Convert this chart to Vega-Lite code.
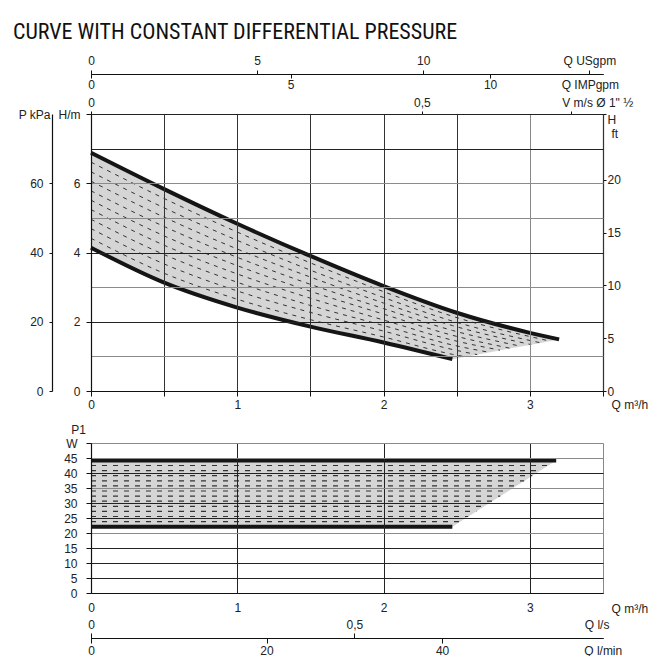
{
  "$schema": "https://vega.github.io/schema/vega-lite/v6.json",
  "padding": {"left": 12, "top": 21, "right": 0, "bottom": 0},
  "title": {"text": "CURVE WITH CONSTANT DIFFERENTIAL PRESSURE", "anchor": "start", "frame": "bounds", "dx": -5, "font": "Liberation Sans Narrow, Roboto Condensed, Roboto, sans-serif", "fontSize": 22, "fontWeight": "normal", "color": "#111", "offset": 10},
  "bounds": "flush",
  "spacing": 52,
  "config": {
    "view": {"stroke": null},
    "axis": {"labelFont": "Liberation Sans", "labelFontSize": 12, "labelColor": "#222", "titleFont": "Liberation Sans", "titleFontSize": 12, "titleFontWeight": "normal", "titleColor": "#222", "domainColor": "#111", "domainWidth": 1.2, "tickColor": "#111", "gridColor": "#333", "labelFlush": false, "labelOverlap": false, "labelBound": false}
  },
  "vconcat": [
    {
      "width": 512, "height": 277,
      "resolve": {"scale": {"x": "independent", "y": "independent"}, "axis": {"x": "independent", "y": "independent"}},
      "layer": [
        {
          "data": {"values": [
            {"q": 0, "u": 6.88, "l": 4.14}, {"q": 0.5, "u": 5.83, "l": 3.13}, {"q": 1.0, "u": 4.83, "l": 2.41},
            {"q": 1.5, "u": 3.90, "l": 1.86}, {"q": 2.0, "u": 3.03, "l": 1.40}, {"q": 2.47, "u": 2.30, "l": 0.92},
            {"q": 2.5, "u": 2.26, "l": 0.94}, {"q": 2.8, "u": 1.90, "l": 1.18}, {"q": 3.0, "u": 1.68, "l": 1.33}, {"q": 3.2, "u": 1.49, "l": 1.49}
          ]},
          "mark": {"type": "area", "color": "#d5d5d5", "interpolate": "linear"},
          "encoding": {
            "x": {"field": "q", "type": "quantitative", "scale": {"domain": [0, 3.5], "nice": false, "zero": false},
              "axis": {"orient": "bottom", "values": [0, 0.5, 1, 1.5, 2, 2.5, 3, 3.5], "labelExpr": "datum.value % 1 == 0 ? format(datum.value, 'd') : ''", "grid": true, "tickSize": 5, "labelPadding": 3, "zindex": 1,
                "gridColor": {"condition": {"test": "datum.value == 3", "value": "#888"}, "value": "#333"},
                "title": "Q m³/h", "titleX": 520, "titleY": 13, "titleAlign": "left", "titleBaseline": "middle", "titleAngle": 0}},
            "y": {"field": "u", "type": "quantitative", "scale": {"domain": [0, 8], "nice": false, "zero": false},
              "axis": {"orient": "left", "values": [0, 1, 2, 3, 4, 5, 6, 7, 8], "labelExpr": "datum.value == 8 ? 'H/m' : (datum.value % 2 == 0 ? format(datum.value, 'd') : '')", "grid": true, "tickSize": 5, "labelPadding": 6, "zindex": 1, "title": null,
                "tickOpacity": {"condition": {"test": "datum.value % 2 == 1", "value": 0}, "value": 1},
                "gridColor": {"condition": {"test": "datum.value == 1 || datum.value == 3 || datum.value == 5 || datum.value == 6", "value": "#8a8a8a"}, "value": "#222"}}},
            "y2": {"field": "l"}
          }
        },
        {
          "data": {"values": [
            {"q": 0, "h": 4.41, "k": 1}, {"q": 0.5, "h": 3.40, "k": 1}, {"q": 1, "h": 2.65, "k": 1}, {"q": 1.5, "h": 2.06, "k": 1}, {"q": 2, "h": 1.56, "k": 1}, {"q": 2.47, "h": 1.06, "k": 1}, {"q": 2.557, "h": 0.99, "k": 1},
            {"q": 0, "h": 4.69, "k": 2}, {"q": 0.5, "h": 3.67, "k": 2}, {"q": 1, "h": 2.89, "k": 2}, {"q": 1.5, "h": 2.27, "k": 2}, {"q": 2, "h": 1.73, "k": 2}, {"q": 2.47, "h": 1.20, "k": 2}, {"q": 2.640, "h": 1.05, "k": 2},
            {"q": 0, "h": 4.96, "k": 3}, {"q": 0.5, "h": 3.94, "k": 3}, {"q": 1, "h": 3.14, "k": 3}, {"q": 1.5, "h": 2.47, "k": 3}, {"q": 2, "h": 1.89, "k": 3}, {"q": 2.47, "h": 1.33, "k": 3}, {"q": 2.719, "h": 1.12, "k": 3},
            {"q": 0, "h": 5.24, "k": 4}, {"q": 0.5, "h": 4.21, "k": 4}, {"q": 1, "h": 3.38, "k": 4}, {"q": 1.5, "h": 2.68, "k": 4}, {"q": 2, "h": 2.05, "k": 4}, {"q": 2.47, "h": 1.47, "k": 4}, {"q": 2.796, "h": 1.18, "k": 4},
            {"q": 0, "h": 5.51, "k": 5}, {"q": 0.5, "h": 4.48, "k": 5}, {"q": 1, "h": 3.62, "k": 5}, {"q": 1.5, "h": 2.88, "k": 5}, {"q": 2, "h": 2.22, "k": 5}, {"q": 2.47, "h": 1.61, "k": 5}, {"q": 2.870, "h": 1.23, "k": 5},
            {"q": 0, "h": 5.78, "k": 6}, {"q": 0.5, "h": 4.75, "k": 6}, {"q": 1, "h": 3.86, "k": 6}, {"q": 1.5, "h": 3.08, "k": 6}, {"q": 2, "h": 2.38, "k": 6}, {"q": 2.47, "h": 1.75, "k": 6}, {"q": 2.941, "h": 1.29, "k": 6},
            {"q": 0, "h": 6.06, "k": 7}, {"q": 0.5, "h": 5.02, "k": 7}, {"q": 1, "h": 4.10, "k": 7}, {"q": 1.5, "h": 3.29, "k": 7}, {"q": 2, "h": 2.54, "k": 7}, {"q": 2.47, "h": 1.89, "k": 7}, {"q": 3.009, "h": 1.34, "k": 7},
            {"q": 0, "h": 6.33, "k": 8}, {"q": 0.5, "h": 5.29, "k": 8}, {"q": 1, "h": 4.35, "k": 8}, {"q": 1.5, "h": 3.49, "k": 8}, {"q": 2, "h": 2.70, "k": 8}, {"q": 2.47, "h": 2.02, "k": 8}, {"q": 3.075, "h": 1.39, "k": 8},
            {"q": 0, "h": 6.61, "k": 9}, {"q": 0.5, "h": 5.56, "k": 9}, {"q": 1, "h": 4.59, "k": 9}, {"q": 1.5, "h": 3.70, "k": 9}, {"q": 2, "h": 2.87, "k": 9}, {"q": 2.47, "h": 2.16, "k": 9}, {"q": 3.139, "h": 1.44, "k": 9}
          ]},
          "mark": {"type": "line", "color": "#333", "strokeWidth": 1, "strokeDash": [4, 5], "interpolate": "monotone"},
          "encoding": {
            "x": {"field": "q", "type": "quantitative", "scale": {"domain": [0, 3.5], "nice": false, "zero": false}, "axis": null},
            "y": {"field": "h", "type": "quantitative", "scale": {"domain": [0, 8], "nice": false, "zero": false}, "axis": null},
            "detail": {"field": "k", "type": "nominal"}
          }
        },
        {
          "data": {"values": [
            {"q": 0, "h": 6.88, "s": "max"}, {"q": 0.5, "h": 5.83, "s": "max"}, {"q": 1, "h": 4.83, "s": "max"}, {"q": 1.5, "h": 3.90, "s": "max"},
            {"q": 2, "h": 3.03, "s": "max"}, {"q": 2.5, "h": 2.26, "s": "max"}, {"q": 3, "h": 1.68, "s": "max"}, {"q": 3.2, "h": 1.49, "s": "max"},
            {"q": 0, "h": 4.14, "s": "min"}, {"q": 0.5, "h": 3.13, "s": "min"}, {"q": 1, "h": 2.41, "s": "min"}, {"q": 1.5, "h": 1.86, "s": "min"},
            {"q": 2, "h": 1.40, "s": "min"}, {"q": 2.47, "h": 0.92, "s": "min"}
          ]},
          "mark": {"type": "line", "color": "#151515", "strokeWidth": 4, "interpolate": "monotone"},
          "encoding": {
            "x": {"field": "q", "type": "quantitative", "scale": {"domain": [0, 3.5], "nice": false, "zero": false}, "axis": null},
            "y": {"field": "h", "type": "quantitative", "scale": {"domain": [0, 8], "nice": false, "zero": false}, "axis": null},
            "detail": {"field": "s", "type": "nominal"}
          }
        },
        {
          "data": {"values": [{"p": 0, "z": 0}, {"p": 80, "z": 0}]},
          "mark": {"type": "point", "opacity": 0},
          "encoding": {
            "x": {"field": "z", "type": "quantitative", "scale": {"domain": [0, 1], "nice": false, "zero": false}, "axis": null},
            "y": {"field": "p", "type": "quantitative", "scale": {"domain": [0, 80], "nice": false, "zero": false},
              "axis": {"orient": "left", "offset": 39, "values": [0, 20, 40, 60], "labelExpr": "format(datum.value, 'd')", "tickSize": 3, "labelPadding": 6, "grid": false, "title": null}}
          }
        },
        {
          "data": {"values": [{"p": 0, "z": 0}, {"p": 80, "z": 0}]},
          "mark": {"type": "point", "opacity": 0},
          "encoding": {
            "x": {"field": "z", "type": "quantitative", "scale": {"domain": [0, 1], "nice": false, "zero": false}, "axis": null},
            "y": {"field": "p", "type": "quantitative", "scale": {"domain": [0, 80], "nice": false, "zero": false},
              "axis": {"orient": "left", "offset": 39, "values": [80], "labelExpr": "'P kPa'", "ticks": false, "domain": false, "labelPadding": 2, "grid": false, "title": null}}
          }
        },
        {
          "data": {"values": [{"f": 0, "z": 0}, {"f": 26.247, "z": 0}]},
          "mark": {"type": "point", "opacity": 0},
          "encoding": {
            "x": {"field": "z", "type": "quantitative", "scale": {"domain": [0, 1], "nice": false, "zero": false}, "axis": null},
            "y": {"field": "f", "type": "quantitative", "scale": {"domain": [0, 26.247], "nice": false, "zero": false},
              "axis": {"orient": "right", "values": [0, 5, 10, 15, 20, 26.247], "labelExpr": "datum.value > 26 ? 'H' : format(datum.value, 'd')", "tickSize": 3, "labelPadding": 1, "grid": false,
                "labelBaseline": {"condition": {"test": "datum.value > 26", "value": "top"}, "value": "middle"},
                "title": "ft", "titleX": 8, "titleY": 19, "titleAlign": "left", "titleBaseline": "middle", "titleAngle": 0}}
          }
        },
        {
          "data": {"values": [{"g": 0, "z": 0}, {"g": 15.41, "z": 0}]},
          "mark": {"type": "point", "opacity": 0},
          "encoding": {
            "y": {"field": "z", "type": "quantitative", "scale": {"domain": [0, 1], "nice": false, "zero": false}, "axis": null},
            "x": {"field": "g", "type": "quantitative", "scale": {"domain": [0, 15.41], "nice": false, "zero": false},
              "axis": {"orient": "top", "offset": 40, "values": [0, 5, 10, 15], "labelExpr": "datum.value == 15 ? 'Q USgpm' : format(datum.value, 'd')", "tickSize": 4, "labelPadding": 3, "grid": false, "title": null}}
          }
        },
        {
          "data": {"values": [{"i": 0, "z": 0}, {"i": 12.83, "z": 0}]},
          "mark": {"type": "point", "opacity": 0},
          "encoding": {
            "y": {"field": "z", "type": "quantitative", "scale": {"domain": [0, 1], "nice": false, "zero": false}, "axis": null},
            "x": {"field": "i", "type": "quantitative", "scale": {"domain": [0, 12.83], "nice": false, "zero": false},
              "axis": {"orient": "bottom", "offset": -317, "values": [0, 5, 10, 12.5], "labelExpr": "datum.value == 12.5 ? 'Q IMPgpm' : format(datum.value, 'd')", "tickSize": 4, "labelPadding": 1, "grid": false, "title": null,
                "tickOpacity": {"condition": {"test": "datum.value == 12.5", "value": 0}, "value": 1}}}
          }
        },
        {
          "data": {"values": [{"v": 0, "z": 0}, {"v": 0.7737, "z": 0}]},
          "mark": {"type": "point", "opacity": 0},
          "encoding": {
            "y": {"field": "z", "type": "quantitative", "scale": {"domain": [0, 1], "nice": false, "zero": false}, "axis": null},
            "x": {"field": "v", "type": "quantitative", "scale": {"domain": [0, 0.7737], "nice": false, "zero": false},
              "axis": {"orient": "top", "offset": 0, "values": [0, 0.5, 0.725], "labelExpr": "datum.value == 0 ? '0' : (datum.value == 0.5 ? '0,5' : '')", "tickSize": 3, "labelPadding": 2, "grid": false, "title": null}}
          }
        },
        {
          "data": {"values": [{"v": 0, "z": 0}, {"v": 0.7737, "z": 0}]},
          "mark": {"type": "point", "opacity": 0},
          "encoding": {
            "y": {"field": "z", "type": "quantitative", "scale": {"domain": [0, 1], "nice": false, "zero": false}, "axis": null},
            "x": {"field": "v", "type": "quantitative", "scale": {"domain": [0, 0.7737], "nice": false, "zero": false},
              "axis": {"orient": "top", "offset": 0, "values": [0.765], "labelExpr": "'V m/s Ø 1\" ½'", "ticks": false, "domain": false, "labelPadding": 5, "grid": false, "title": null}}
          }
        }
      ]
    },
    {
      "width": 512, "height": 150,
      "resolve": {"scale": {"x": "independent", "y": "independent"}, "axis": {"x": "independent", "y": "independent"}},
      "layer": [
        {
          "data": {"values": [
            {"q": 0, "u": 44.2, "l": 22.1}, {"q": 2.47, "u": 44.2, "l": 22.1}, {"q": 3.18, "u": 44.2, "l": 44.2}
          ]},
          "mark": {"type": "area", "color": "#d5d5d5", "interpolate": "linear"},
          "encoding": {
            "x": {"field": "q", "type": "quantitative", "scale": {"domain": [0, 3.5], "nice": false, "zero": false},
              "axis": {"orient": "bottom", "values": [0, 1, 2, 3, 3.5], "labelExpr": "datum.value % 1 == 0 ? format(datum.value, 'd') : ''", "grid": true, "ticks": false, "labelPadding": 9, "zindex": 1,
                "gridColor": {"condition": {"test": "datum.value == 3.5", "value": "#888"}, "value": "#222"},
                "title": "Q m³/h", "titleX": 520, "titleY": 15, "titleAlign": "left", "titleBaseline": "middle", "titleAngle": 0}},
            "y": {"field": "u", "type": "quantitative", "scale": {"domain": [0, 50], "nice": false, "zero": false},
              "axis": {"orient": "left", "values": [0, 5, 10, 15, 20, 25, 30, 35, 40, 45, 50], "labelExpr": "datum.value == 50 ? 'W' : format(datum.value, 'd')", "grid": true, "tickSize": 5, "labelPadding": 9, "zindex": 1,
                "gridColor": {"condition": {"test": "datum.value == 50 || datum.value == 45 || datum.value == 35 || datum.value == 20", "value": "#8a8a8a"}, "value": "#222"},
                "title": "P1", "titleX": -13, "titleY": -14, "titleAlign": "center", "titleBaseline": "middle", "titleAngle": 0}},
            "y2": {"field": "l"}
          }
        },
        {
          "data": {"values": [
            {"q": 0, "w": 23.8, "k": 1}, {"q": 2.525, "w": 23.8, "k": 1},
            {"q": 0, "w": 25.5, "k": 2}, {"q": 2.579, "w": 25.5, "k": 2},
            {"q": 0, "w": 27.2, "k": 3}, {"q": 2.634, "w": 27.2, "k": 3},
            {"q": 0, "w": 28.9, "k": 4}, {"q": 2.688, "w": 28.9, "k": 4},
            {"q": 0, "w": 30.6, "k": 5}, {"q": 2.743, "w": 30.6, "k": 5},
            {"q": 0, "w": 32.3, "k": 6}, {"q": 2.798, "w": 32.3, "k": 6},
            {"q": 0, "w": 34.0, "k": 7}, {"q": 2.852, "w": 34.0, "k": 7},
            {"q": 0, "w": 35.7, "k": 8}, {"q": 2.907, "w": 35.7, "k": 8},
            {"q": 0, "w": 37.4, "k": 9}, {"q": 2.961, "w": 37.4, "k": 9},
            {"q": 0, "w": 39.1, "k": 10}, {"q": 3.016, "w": 39.1, "k": 10},
            {"q": 0, "w": 40.8, "k": 11}, {"q": 3.071, "w": 40.8, "k": 11},
            {"q": 0, "w": 42.5, "k": 12}, {"q": 3.125, "w": 42.5, "k": 12}
          ]},
          "mark": {"type": "line", "color": "#333", "strokeWidth": 1.2, "strokeDash": [5, 6]},
          "encoding": {
            "x": {"field": "q", "type": "quantitative", "scale": {"domain": [0, 3.5], "nice": false, "zero": false}, "axis": null},
            "y": {"field": "w", "type": "quantitative", "scale": {"domain": [0, 50], "nice": false, "zero": false}, "axis": null},
            "detail": {"field": "k", "type": "nominal"}
          }
        },
        {
          "data": {"values": [
            {"q": 0, "w": 44.2, "s": "max"}, {"q": 3.18, "w": 44.2, "s": "max"},
            {"q": 0, "w": 22.1, "s": "min"}, {"q": 2.47, "w": 22.1, "s": "min"}
          ]},
          "mark": {"type": "line", "color": "#151515", "strokeWidth": 4},
          "encoding": {
            "x": {"field": "q", "type": "quantitative", "scale": {"domain": [0, 3.5], "nice": false, "zero": false}, "axis": null},
            "y": {"field": "w", "type": "quantitative", "scale": {"domain": [0, 50], "nice": false, "zero": false}, "axis": null},
            "detail": {"field": "s", "type": "nominal"}
          }
        },
        {
          "data": {"values": [{"s": 0, "z": 0}, {"s": 0.97222, "z": 0}]},
          "mark": {"type": "point", "opacity": 0},
          "encoding": {
            "y": {"field": "z", "type": "quantitative", "scale": {"domain": [0, 1], "nice": false, "zero": false}, "axis": null},
            "x": {"field": "s", "type": "quantitative", "scale": {"domain": [0, 0.97222], "nice": false, "zero": false},
              "axis": {"orient": "top", "offset": -195, "values": [0, 0.5, 0.96], "labelExpr": "datum.value == 0 ? '0' : (datum.value == 0.5 ? '0,5' : 'Q l/s')", "tickSize": 5, "labelPadding": 2, "grid": false, "title": null,
                "tickOpacity": {"condition": {"test": "datum.value == 0.96", "value": 0}, "value": 1}}}
          }
        },
        {
          "data": {"values": [{"m": 0, "z": 0}, {"m": 58.333, "z": 0}]},
          "mark": {"type": "point", "opacity": 0},
          "encoding": {
            "y": {"field": "z", "type": "quantitative", "scale": {"domain": [0, 1], "nice": false, "zero": false}, "axis": null},
            "x": {"field": "m", "type": "quantitative", "scale": {"domain": [0, 58.333], "nice": false, "zero": false},
              "axis": {"orient": "bottom", "offset": 45, "values": [0, 20, 40, 58.3], "labelExpr": "datum.value > 58 ? 'Q l/min' : format(datum.value, 'd')", "tickSize": 5, "labelPadding": 2, "grid": false, "title": null,
                "tickOpacity": {"condition": {"test": "datum.value > 58", "value": 0}, "value": 1}}}
          }
        }
      ]
    }
  ]
}
